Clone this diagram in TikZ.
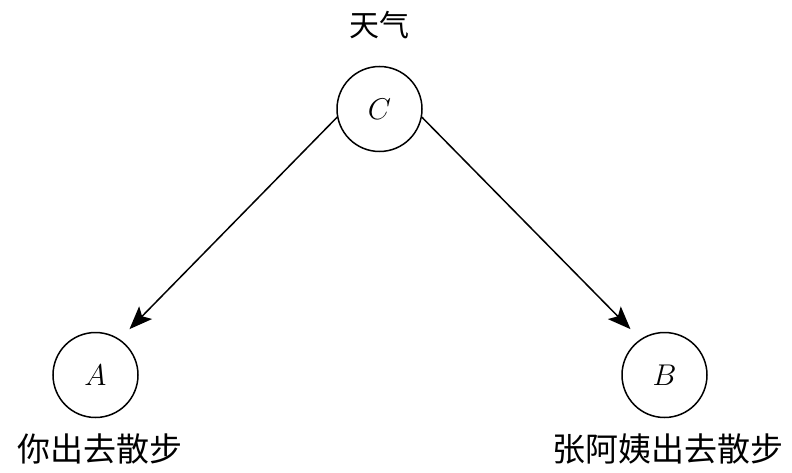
\RequirePackage{fix-cm}
\documentclass[tikz,border=0pt]{standalone}
\usepackage{fontspec}
\usepackage{tikz}
\usetikzlibrary{arrows.meta,positioning}
\newfontfamily\cjk{Noto Sans CJK SC}

\begin{document}
\begin{tikzpicture}[x=1pt, y=-1pt,
  var/.style={circle, draw, line width=1.5pt, minimum size=85pt, inner sep=0pt,
              font=\fontsize{30}{36}\selectfont},
  arrow/.style={-{Stealth[length=23pt, width=18pt, inset=5pt]}, line width=1.5pt},
  vname/.style={font=\cjk\fontsize{33}{40}\selectfont}
]
\useasboundingbox (0,0) rectangle (792,473);

% Variables
\node[var] (c) at (379.5,109) {$C$};
\node[var] (a) at (95.5,375)  {$A$};
\node[var] (b) at (664.5,375) {$B$};

% Names
\node[vname, font=\cjk\fontsize{30}{36}\selectfont] (lc) at (379,25) {天气};
\node[vname] (la) at (100,449) {你出去散步};
\node[vname] (lb) at (668,449) {张阿姨出去散步};

% Edges
\draw[arrow, shorten >=14pt] (c.191) -- (a.56);
\draw[arrow, shorten >=14pt] (c.349) -- (b.124);
\end{tikzpicture}
\end{document}
